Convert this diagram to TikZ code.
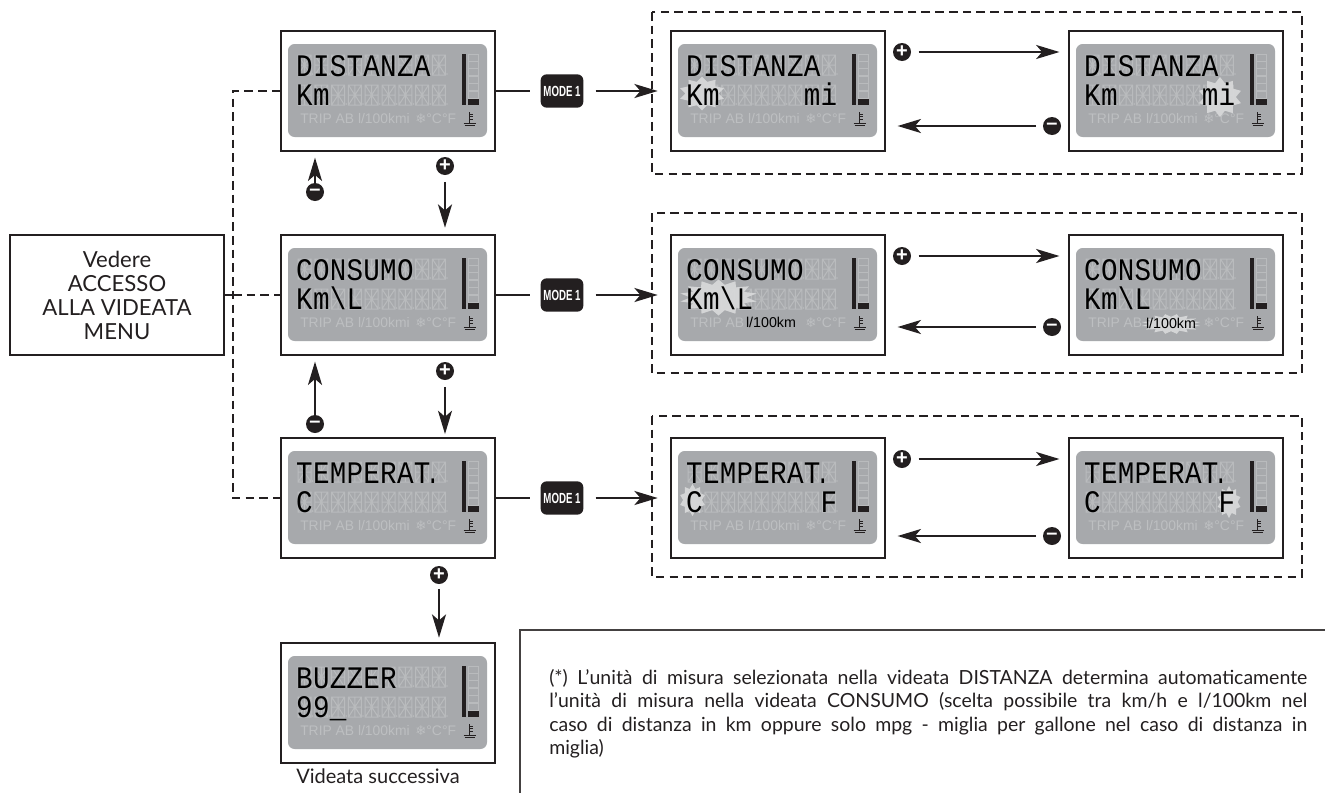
\documentclass[tikz,border=0pt]{standalone}
\usepackage{fontspec}
\usepackage{graphicx}
\usetikzlibrary{arrows.meta,calc}
\setmainfont{Lato}
\newfontfamily\lcdmono{Liberation Mono}
\newfontfamily\lcdsans{Liberation Sans}
\newfontfamily\djv{DejaVu Sans}
\definecolor{lcdbg}{HTML}{A7A9AC}
\definecolor{lcdghost}{HTML}{B9BBBD}
\definecolor{lcdlabel}{HTML}{BDBFC1}
\definecolor{burstc}{HTML}{D8D9DA}
\definecolor{ink}{HTML}{231F20}
\tikzset{
  lcdbox/.style={draw=ink,line width=.9pt,minimum width=160.5pt,minimum height=90pt,inner sep=0pt,fill=white},
  startbox/.style={draw=ink,line width=.9pt,minimum width=160.5pt,minimum height=90pt,inner sep=0pt},
  groupbox/.style={draw=ink,line width=2pt,dash pattern=on 6.5pt off 3.8pt},
  dashline/.style={draw=ink,line width=2pt,dash pattern=on 6.5pt off 3.8pt},
  link/.style={draw=ink,line width=1.7pt},
  arr/.style={draw=ink,line width=1.7pt,-{Stealth[length=17.5pt,width=10.5pt,inset=4.5pt]}},
  pm/.style={circle,fill=ink,text=white,minimum size=13.5pt,inner sep=0pt,font=\lcdsans\bfseries\fontsize{15}{15}\selectfont},
  modebadge/.style={fill=ink,rounded corners=4.5pt,minimum width=32pt,minimum height=25pt,inner sep=0pt,text=white,font=\lcdsans\bfseries\fontsize{11}{11}\selectfont},
  lcdch/.style={anchor=base,inner sep=0pt,text=black,font=\lcdmono\fontsize{23.5}{23.5}\selectfont},
  lcdsmall/.style={inner sep=0pt,font=\lcdsans\fontsize{10.4}{12}\selectfont},
  unitlabel/.style={inner sep=0pt,text=black,font=\lcdsans\fontsize{10.7}{12}\selectfont},
}
% ghost cell
\newcommand\ghostcell[2]{%
  \draw[lcdghost,line width=.75pt] (#1,#2) rectangle ++(13,20)
    (#1,#2+10) -- ++(13,0) (#1+6.5,#2) -- ++(0,20)
    (#1,#2) -- ++(13,20) (#1+13,#2) -- ++(-13,20);
  \fill[lcdghost] (#1+14.6,#2+19) circle (.9);
}
% panel: [label], name, left, top
\newcommand\lcdpanel[4][TRIP AB l/100kmi]{%
  \begin{scope}[shift={(#3,#4)}]
    \node[lcdbox] (#2) at (107,60) {};
    \fill[lcdbg,rounded corners=5pt] (7,13) rectangle (206,106);
    \foreach \i in {0,...,8} {
      \pgfmathsetmacro\cx{17+\i*16.8}
      \ghostcell{\cx}{24}
      \ghostcell{\cx}{54}
    }
    \fill[ink] (181,23) rectangle (185,74);
    \foreach \j in {0,...,5} {
      \draw[lcdghost,line width=.6pt] (187,23+\j*7.4) rectangle (197,30+\j*7.4);
    }
    \fill[ink] (187,68) rectangle (197.5,74);
    \node[lcdsmall,text=lcdlabel,anchor=base west] (#2lab) at (19,92) {#1};
    \node[lcdsmall,text=lcdlabel,anchor=base west] (#2ico) at (134,92) {{\djv\fontsize{10}{10}\selectfont ❄}°C°F};
    \draw[ink,line width=.6pt] (188.5,81) -- (188.5,92) (188.5,83) -- (191.5,83) (188.5,85.5) -- (191.5,85.5) (188.5,88) -- (191.5,88)
      (182.5,92) -- (195,92) (183.5,94.5) -- (194,94.5);
  \end{scope}
}
% characters: left, top, baseline (rel), first slot, list
\newcommand\lcdchars[5]{%
  \begin{scope}[shift={(#1,#2)}]
    \foreach \c [count=\i from #4] in {#5} {
      \node[lcdch] at ({23.5+(\i-1)*16.8},#3) {\scalebox{.88}[1]{\c}};
    }
  \end{scope}
}
\newcommand\burst[5]{%
  \fill[burstc,opacity=.92] plot[samples at={1,...,#5},variable=\t]
    ({#1+#3*(.72+.28*mod(\t,2))*cos(\t*360/#5)},{#2+#4*(.72+.28*mod(\t,2))*sin(\t*360/#5)}) -- cycle;
}
\begin{document}
\begin{tikzpicture}[x=.75pt,y=-.75pt]
\useasboundingbox (0,0) rectangle (1325,793);
% dashed groups
\draw[groupbox] (652,12) rectangle (1302,174);
\draw[groupbox] (652,213) rectangle (1302,373);
\draw[groupbox] (652,416) rectangle (1302,577);
% start box
\node[startbox] (start) at (117,295) {};
\node[inner sep=0pt,align=center,text=ink,font=\fontsize{16.6}{18}\selectfont] (starttext) at (117,295) {Vedere\\ACCESSO\\ALLA VIDEATA\\MENU};
% left panels
\lcdpanel{d1}{281}{31}
\lcdchars{281}{31}{45}{1}{D,I,S,T,A,N,Z,A}
\lcdchars{281}{31}{74}{1}{K,m}
\lcdpanel{d2}{281}{235}
\lcdchars{281}{235}{45}{1}{C,O,N,S,U,M,O}
\lcdchars{281}{235}{74}{1}{K,m,\textbackslash,L}
\lcdpanel{d3}{281}{438}
\lcdchars{281}{438}{45}{1}{T,E,M,P,E,R,A,T}
\node[lcdch] (d3dot) at (281+152,438+45) {\scalebox{.72}[1]{.}};
\lcdchars{281}{438}{74}{1}{C}
\lcdpanel{d4}{281}{643}
\lcdchars{281}{643}{45}{1}{B,U,Z,Z,E,R}
\lcdchars{281}{643}{74}{1}{9,9,\_}
% right group, row 1
\lcdpanel{a1}{671}{31}
\burst{702}{93.5}{23}{17}{20}
\lcdchars{671}{31}{45}{1}{D,I,S,T,A,N,Z,A}
\lcdchars{671}{31}{74}{1}{K,m}
\lcdchars{671}{31}{74}{8}{m,i}
\lcdpanel{b1}{1069}{31}
\burst{1220}{97}{22}{20}{20}
\lcdchars{1069}{31}{45}{1}{D,I,S,T,A,N,Z,A}
\lcdchars{1069}{31}{74}{1}{K,m}
\lcdchars{1069}{31}{74}{8}{m,i}
% right group, row 2
\lcdpanel[TRIP AB]{a2}{671}{235}
\burst{718.5}{297.5}{39}{18}{28}
\lcdchars{671}{235}{45}{1}{C,O,N,S,U,M,O}
\lcdchars{671}{235}{74}{1}{K,m,\textbackslash,L}
\node[unitlabel] (a2unit) at (771,322) {l/100km};
\lcdpanel[TRIP AB]{b2}{1069}{235}
\burst{1171}{324}{30}{10}{32}
\lcdchars{1069}{235}{45}{1}{C,O,N,S,U,M,O}
\lcdchars{1069}{235}{74}{1}{K,m,\textbackslash,L}
\node[unitlabel] (b2unit) at (1171,323) {l/100km};
% right group, row 3
\lcdpanel{a3}{671}{438}
\burst{692.5}{500}{13}{16}{20}
\lcdchars{671}{438}{45}{1}{T,E,M,P,E,R,A,T}
\node[lcdch] (a3dot) at (671+152,438+45) {\scalebox{.72}[1]{.}};
\lcdchars{671}{438}{74}{1}{C}
\lcdchars{671}{438}{74}{9}{F}
\lcdpanel{b3}{1069}{438}
\burst{1229}{502}{12}{16}{20}
\lcdchars{1069}{438}{45}{1}{T,E,M,P,E,R,A,T}
\node[lcdch] (b3dot) at (1069+152,438+45) {\scalebox{.72}[1]{.}};
\lcdchars{1069}{438}{74}{1}{C}
\lcdchars{1069}{438}{74}{9}{F}
% dashed bus
\coordinate (busTop) at (233,91);
\coordinate (busBot) at (233,498);
\draw[dashline] (d1.west) -- (busTop) -- (busBot) -- (d3.west);
\draw[link,line width=1.3pt] (start.east) -- (233,295);
\draw[dashline] (233,295) -- (d2.west);
% mode badges and links
\foreach \r/\yy in {1/91,2/295,3/498} {
  \node[modebadge] (mode\r) at (562,\yy) {\scalebox{.66}[1]{MODE 1}};
  \draw[link] (d\r.east) -- ([xshift=-7.5pt]mode\r.west);
  \draw[arr,shorten <=9pt,shorten >=9.5pt] (mode\r.east) -- (a\r.west);
}
% horizontal plus/minus arrows
\node[pm] (pa1) at (902,52) {+};
\node[pm] (ma1) at (1052,126) {–};
\node[pm] (pa2) at (902,256) {+};
\node[pm] (ma2) at (1052,327) {–};
\node[pm] (pa3) at (902,459) {+};
\node[pm] (ma3) at (1052,536) {–};
\foreach \r in {1,2,3} {
  \draw[arr,shorten <=5.5pt,shorten >=6.7pt] (pa\r.east) -- (b\r.west |- pa\r.east);
  \draw[arr,shorten <=5pt,shorten >=9pt] (ma\r.west) -- (a\r.east |- ma\r.west);
}
% vertical arrows
\node[pm] (m12) at (315,192) {–};
\node[pm] (p12) at (445,166) {+};
\node[pm] (m23) at (315,424) {–};
\node[pm] (p23) at (445,371) {+};
\node[pm] (p34) at (439,575) {+};
\draw[arr,shorten >=4.5pt] (m12.north) -- (m12.north |- d1.south);
\draw[arr,shorten <=5pt,shorten >=5pt] (p12.south) -- (p12.south |- d2.north);
\draw[arr,shorten >=4.5pt] (m23.north) -- (m23.north |- d2.south);
\draw[arr,shorten <=5pt,shorten >=2.5pt] (p23.south) -- (p23.south |- d3.north);
\draw[arr,shorten <=3.5pt,shorten >=3.5pt] (p34.south) -- (p34.south |- d4.north);
% captions
\node[anchor=base,inner sep=0pt,text=ink,font=\fontsize{15}{17}\selectfont] (next) at (378,783) {Videata successiva};
\coordinate (noteA) at (1325,630);
\coordinate (noteB) at (520,630);
\coordinate (noteC) at (520,793);
\draw[draw=ink!85,line width=.9pt] (noteA) -- (noteB) -- (noteC);
\node[anchor=north west,inner sep=0pt,text width=568.5pt,align=justify,text=ink,font=\fontsize{14.6}{17.6}\selectfont] (note) at (549,669)
{(*) L’unità di misura selezionata nella videata DISTANZA determina automaticamente\linebreak
l’unità di misura nella videata CONSUMO (scelta possibile tra km/h e l/100km nel\linebreak
caso di distanza in km oppure solo mpg - miglia per gallone nel caso di distanza in\linebreak
miglia)};
\end{tikzpicture}
\end{document}
